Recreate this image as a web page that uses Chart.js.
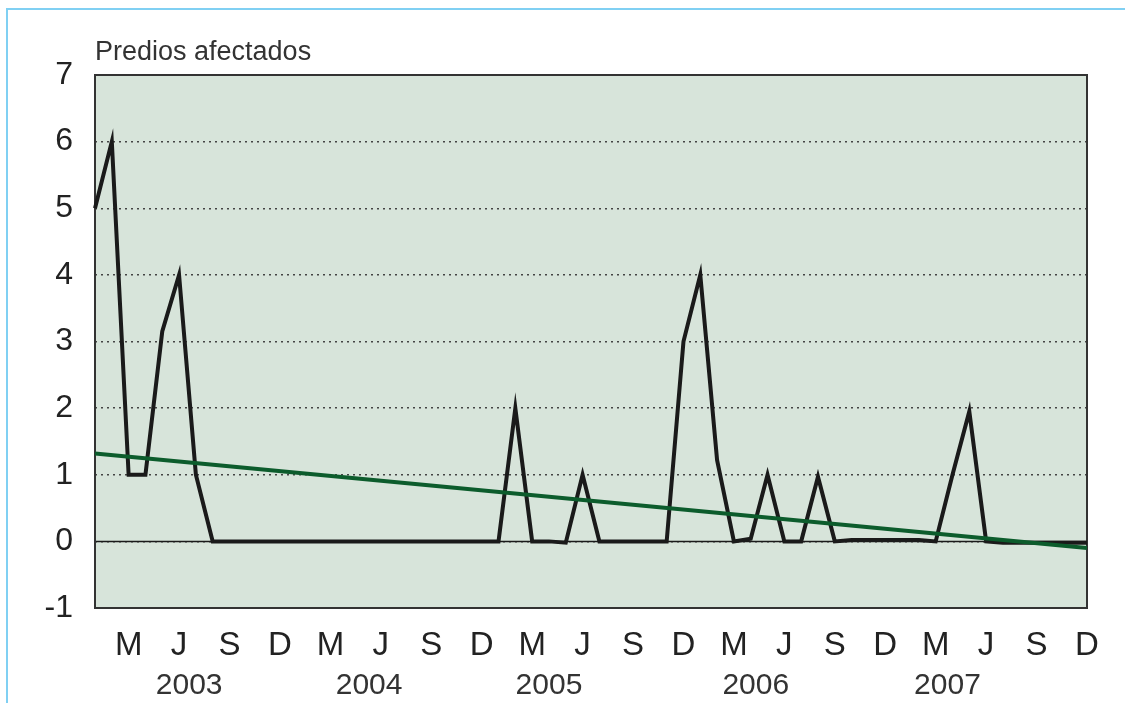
<!DOCTYPE html>
<html>
<head>
<meta charset="utf-8">
<script src="https://cdn.jsdelivr.net/npm/chart.js@4/dist/chart.umd.min.js"></script>
<style>
  body { margin: 0; background: #fff; overflow: hidden; }
  #marco { position: absolute; left: 6px; top: 8px; width: 1119px; height: 695px;
           border-top: 2px solid #80d0f3; border-left: 2px solid #80d0f3; }
  #grafica { position: absolute; left: 0; top: 0; }
</style>
</head>
<body>
<div id="marco"></div>
<canvas id="grafica" width="1125" height="703"></canvas>
<script>
// Predios afectados por mes, enero 2003 - diciembre 2007
const anios = ['2003', '2004', '2005', '2006', '2007'];
const meses = ['E', 'F', 'M', 'A', 'M', 'J', 'J', 'A', 'S', 'O', 'N', 'D'];

const predios2003 = [5, 6, 1, 1, 3.15, 4, 1, 0, 0, 0, 0, 0];
const predios2004 = [0, 0, 0, 0, 0, 0, 0, 0, 0, 0, 0, 0];
const predios2005 = [0, 2, 0, 0, -0.02, 1, 0, 0, 0, 0, 0, 3];
const predios2006 = [4, 1.22, 0, 0.04, 1, 0, 0, 0.97, 0, 0.02, 0.02, 0.02];
const predios2007 = [0.02, 0.02, 0, 1, 1.95, 0, -0.02, -0.02, -0.02, -0.02, -0.02, -0.02];

// tendencia lineal: valor al inicio y al final del periodo
const tendencia = [1.32, -0.1];

// posicion de la etiqueta de cada año (en meses desde enero 2003)
const posAnio = [5.6, 16.3, 27.0, 39.3, 50.7];

const etiquetas = anios.flatMap(a => meses.map(m => m + ' ' + a));
const predios = [].concat(predios2003, predios2004, predios2005, predios2006, predios2007);
const lineaTendencia = predios.map((_, i) =>
    i === 0 ? tendencia[0] : (i === predios.length - 1 ? tendencia[1] : null));

Chart.defaults.font.family = '"Liberation Sans", Arial, sans-serif';
Chart.defaults.color = '#222';

// fondo verde, linea del cero y marco del area de trazado
const fondo = {
    id: 'fondo',
    beforeDraw(chart) {
        const { ctx, chartArea: a } = chart;
        ctx.save();
        ctx.fillStyle = '#d7e4da';
        ctx.fillRect(a.left, a.top, a.right - a.left, a.bottom - a.top);
        ctx.restore();
    },
    beforeDatasetsDraw(chart) {
        const { ctx, chartArea: a, scales } = chart;
        const y0 = scales.y.getPixelForValue(0);
        ctx.save();
        ctx.strokeStyle = '#1a1a1a';
        ctx.lineWidth = 1.5;
        ctx.beginPath();
        ctx.moveTo(a.left, y0);
        ctx.lineTo(a.right, y0);
        ctx.stroke();
        ctx.strokeStyle = '#333';
        ctx.lineWidth = 2;
        ctx.strokeRect(a.left, a.top, a.right - a.left, a.bottom - a.top);
        ctx.restore();
    }
};

const ctx = document.getElementById('grafica').getContext('2d');
new Chart(ctx, {
    type: 'line',
    data: {
        labels: etiquetas,
        datasets: [{
            label: 'Tendencia',
            data: lineaTendencia,
            borderColor: '#0c5c2c',
            borderWidth: 4,
            pointRadius: 0,
            spanGaps: true,
            order: 0
        }, {
            label: 'Predios afectados',
            data: predios,
            borderColor: '#1a1a1a',
            borderWidth: 4,
            pointRadius: 0,
            tension: 0,
            order: 1
        }]
    },
    options: {
        responsive: false,
        animation: false,
        layout: { padding: { top: 30, right: 38, left: 0, bottom: 0 } },
        plugins: {
            legend: { display: false },
            tooltip: { enabled: false },
            title: {
                display: true,
                text: 'Predios afectados',
                align: 'start',
                fullSize: false,
                color: '#333',
                font: { size: 27, weight: 'normal' },
                padding: { top: 6, bottom: 6.6 }
            }
        },
        scales: {
            x: {
                offset: false,
                weight: 0,
                grid: { display: false, drawTicks: false },
                border: { display: false },
                afterFit: s => { s.height = 50; },
                ticks: {
                    autoSkip: false,
                    maxRotation: 0,
                    padding: 18,
                    color: '#222',
                    font: { size: 33 },
                    callback: (v, i) => (i % 3 === 2 ? meses[i % 12] : '')
                }
            },
            x2: {
                type: 'linear',
                position: 'bottom',
                weight: 1,
                min: 0,
                max: predios.length - 1,
                grid: { display: false, drawTicks: false },
                border: { display: false },
                afterFit: s => { s.height = 45; },
                afterBuildTicks: s => { s.ticks = posAnio.map(v => ({ value: v })); },
                ticks: {
                    autoSkip: false,
                    maxRotation: 0,
                    padding: 10,
                    color: '#333',
                    font: { size: 30 },
                    callback: (v, i) => anios[i]
                }
            },
            y: {
                min: -1,
                max: 7,
                afterFit: s => { s.width = 95; },
                grid: {
                    drawTicks: false,
                    color: c => (c.tick.value > -1 && c.tick.value < 7 ? '#444' : 'rgba(0,0,0,0)'),
                    lineWidth: 1.5
                },
                border: { display: false, dash: [2, 4] },
                ticks: {
                    stepSize: 1,
                    padding: 22,
                    color: '#222',
                    font: { size: 32 }
                }
            }
        }
    },
    plugins: [fondo]
});
</script>
</body>
</html>
